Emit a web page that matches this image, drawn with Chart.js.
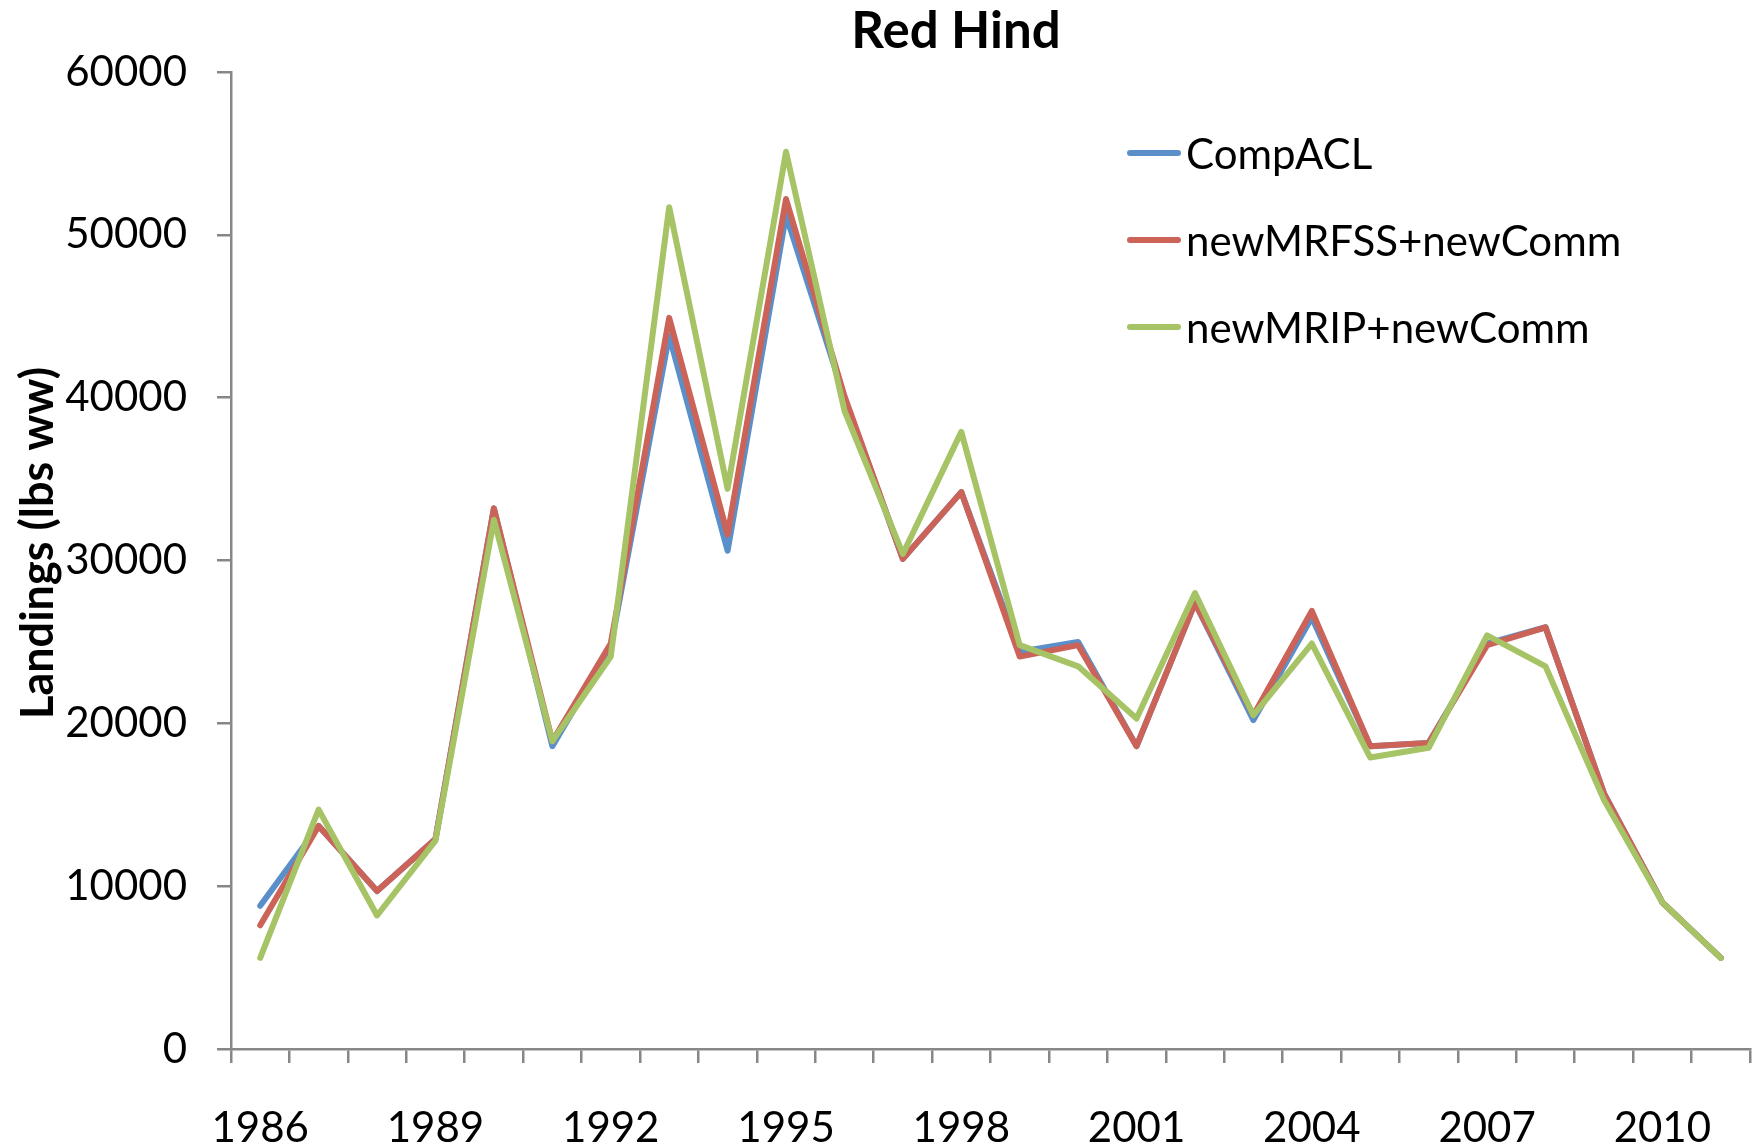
<!DOCTYPE html>
<html>
<head>
<meta charset="utf-8">
<title>Red Hind</title>
<script src="https://cdn.jsdelivr.net/npm/chart.js@4.4.1/dist/chart.umd.min.js"></script>
<style>
  html, body { margin: 0; padding: 0; background: #fff; }
  #wrap { width: 1754px; height: 1147px; }
</style>
</head>
<body>
<div id="wrap"><canvas id="chart" width="1754" height="1147"></canvas></div>
<script>
/* Red Hind landings — line chart */

// ── Data ──────────────────────────────────
const years = [
  "1986", "1987", "1988", "1989", "1990", "1991", "1992", "1993", "1994",
  "1995", "1996", "1997", "1998", "1999", "2000", "2001", "2002", "2003",
  "2004", "2005", "2006", "2007", "2008", "2009", "2010", "2011"
];

const compACL = [
  8800, 13700, 9700, 12900, 33200, 18600, 24700, 43800, 30600,
  51200, 40000, 30100, 34200, 24400, 25000, 18600, 27400, 20200,
  26500, 18600, 18800, 24900, 25900, 15700, 9000, 5600
];

const newMRFSS = [
  7600, 13700, 9700, 12900, 33200, 18900, 24900, 44900, 31600,
  52200, 40100, 30100, 34200, 24100, 24800, 18600, 27400, 20500,
  26900, 18600, 18800, 24800, 25900, 15700, 9000, 5600
];

const newMRIP = [
  5600, 14700, 8200, 12800, 32500, 18900, 24100, 51700, 34400,
  55100, 39200, 30400, 37900, 24800, 23500, 20300, 28000, 20500,
  24900, 17900, 18500, 25400, 23500, 15300, 9000, 5600
];

const seriesNames = ["CompACL", "newMRFSS+newComm", "newMRIP+newComm"];
const yTicks = [0, 10000, 20000, 30000, 40000, 50000, 60000];

const chartTitle = "Red Hind";
const yTitle     = "Landings (lbs ww)";

// ── Styles ────────────────────────────────
const FONT    = "Lato, 'Open Sans', sans-serif";
const AXIS    = "#878787";
const COLORS  = ["#5b8fc9", "#cb6359", "#a6c365"];

// ── Title + legend drawn inside the canvas ──
const decorations = {
  id: "decorations",
  afterDraw(chart) {
    const ctx = chart.ctx;
    ctx.save();
    ctx.fillStyle = "#000";

    // chart title
    ctx.font = "bold 51px " + FONT;
    ctx.textAlign = "center";
    ctx.textBaseline = "middle";
    ctx.fillText(chartTitle, 956, 32);

    // y axis title (rotated)
    ctx.save();
    ctx.translate(38, 543);
    ctx.rotate(-Math.PI / 2);
    ctx.font = "bold 45px " + FONT;
    ctx.fillText(yTitle, 0, 0);
    ctx.restore();

    // legend
    ctx.font = "42px " + FONT;
    ctx.textAlign = "left";
    chart.data.datasets.forEach((ds, i) => {
      const y = 153 + i * 87;
      ctx.strokeStyle = ds.borderColor;
      ctx.lineWidth = 6;
      ctx.lineCap = "round";
      ctx.beginPath();
      ctx.moveTo(1130, y);
      ctx.lineTo(1178, y);
      ctx.stroke();
      ctx.fillText(ds.label, 1186, y + 2);
    });
    ctx.restore();
  }
};

function makeSet(label, data, color, order) {
  return {
    label,
    data,
    borderColor: color,
    backgroundColor: color,
    borderWidth: 6,
    borderJoinStyle: "round",
    borderCapStyle: "round",
    pointRadius: 0,
    tension: 0,
    fill: false,
    order,
  };
}

new Chart(document.getElementById("chart").getContext("2d"), {
  type: "line",
  data: {
    labels: years,
    datasets: [
      makeSet(seriesNames[0], compACL,  COLORS[0], 3),
      makeSet(seriesNames[1], newMRFSS, COLORS[1], 2),
      makeSet(seriesNames[2], newMRIP,  COLORS[2], 1),
    ],
  },
  options: {
    responsive: false,
    animation: false,
    layout: { padding: { top: 72, right: 4, left: 0, bottom: 0 } },
    plugins: {
      legend:  { display: false },
      title:   { display: false },
      tooltip: { enabled: false },
    },
    scales: {
      x: {
        type: "category",
        offset: true,
        grid: {
          offset: true,
          drawOnChartArea: false,
          drawTicks: true,
          tickLength: 14,
          color: AXIS,
          lineWidth: 2.5,
        },
        border: { display: true, color: AXIS, width: 2.5 },
        ticks: {
          autoSkip: false,
          maxRotation: 0,
          color: "#000",
          font: { family: FONT, size: 42 },
          padding: 40,
          callback: (v, i) => (i % 3 === 0 ? years[i] : ""),
        },
        afterFit: s => {
          s.height = 98;
          s.paddingLeft = 0;
          s.paddingRight = 0;
        },
      },
      y: {
        min: 0,
        max: 60000,
        afterBuildTicks: s => { s.ticks = yTicks.map(v => ({ value: v })); },
        grid: {
          drawOnChartArea: false,
          drawTicks: true,
          tickLength: 14,
          color: AXIS,
          lineWidth: 2.5,
        },
        border: { display: true, color: AXIS, width: 2.5 },
        ticks: {
          color: "#000",
          font: { family: FONT, size: 42 },
          padding: 30,
          callback: v => String(v),
        },
        afterFit: s => { s.width = 231; },
      },
    },
  },
  plugins: [decorations],
});
</script>
</body>
</html>
